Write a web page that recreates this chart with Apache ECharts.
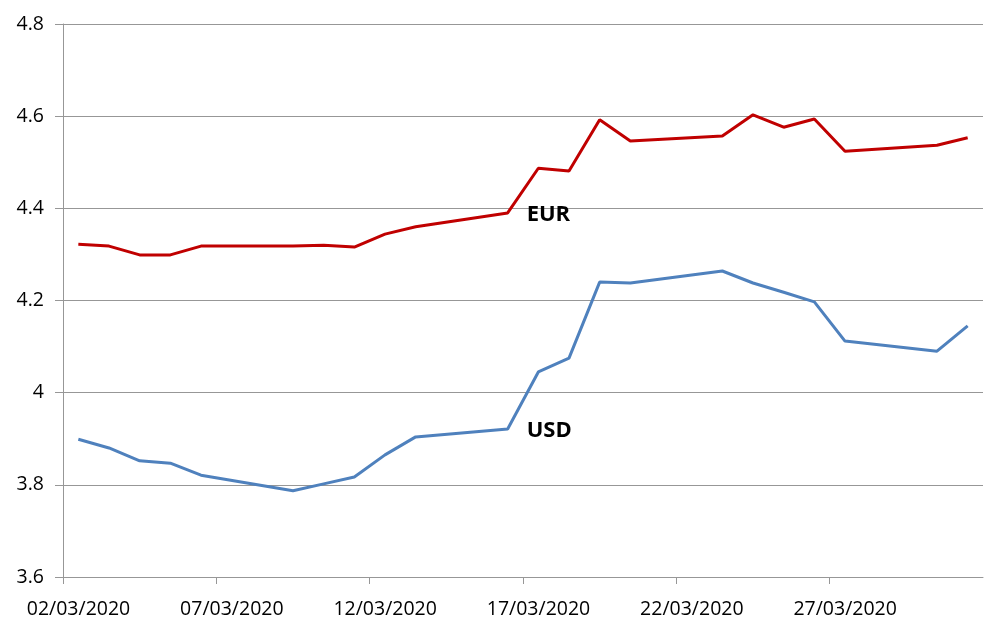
<!DOCTYPE html>
<html>
<head>
<meta charset="utf-8">
<script src="https://cdn.jsdelivr.net/npm/echarts@6/dist/echarts.min.js"></script>
<style>
html,body{margin:0;padding:0;background:#fff;}
#chart{width:1006px;height:633px;}
</style>
</head>
<body>
<div id="chart"></div>
<script>
const dates = ['02/03/2020','03/03/2020','04/03/2020','05/03/2020','06/03/2020',
  '09/03/2020','10/03/2020','11/03/2020','12/03/2020','13/03/2020',
  '16/03/2020','17/03/2020','18/03/2020','19/03/2020','20/03/2020',
  '23/03/2020','24/03/2020','25/03/2020','26/03/2020','27/03/2020',
  '30/03/2020','31/03/2020'];
const eur = [4.322,4.318,4.299,4.299,4.318,
  4.318,4.320,4.316,4.344,4.360,
  4.390,4.487,4.481,4.592,4.546,
  4.557,4.603,4.576,4.594,4.524,
  4.537,4.553];
const usd = [3.899,3.880,3.852,3.847,3.821,
  3.787,3.802,3.817,3.865,3.904,
  3.921,4.045,4.075,4.240,4.238,
  4.264,4.238,4.218,4.197,4.112,
  4.090,4.145];
const labelDate = '16/03/2020';
const axisStart = '02/03/2020';
const axisDays = 30;
const tickStep = 5;
const yTicks = {min: 3.6, max: 4.8, step: 0.2};

const DAY = 86400000;
function parseDate(s){ const p = s.split('/'); return Date.UTC(+p[2], +p[1]-1, +p[0]); }
const t0 = parseDate(axisStart);
function dayIndex(s){ return (parseDate(s) - t0) / DAY + 0.5; }
function fmtDate(v){
  const d = new Date(t0 + Math.round(v) * DAY);
  const dd = String(d.getUTCDate()).padStart(2,'0');
  const mm = String(d.getUTCMonth()+1).padStart(2,'0');
  return dd + '/' + mm + '/' + d.getUTCFullYear();
}
function build(vals, name){
  return dates.map((d,i) => {
    const item = {value: [dayIndex(d), vals[i]]};
    if (d === labelDate) {
      item.label = {show: true, position: 'right', distance: 19, offset: [0, 2], formatter: name,
        fontFamily: 'Open Sans', fontWeight: 'bold', fontSize: 22, color: '#000'};
    }
    return item;
  });
}
const gray = '#979797';
const chart = echarts.init(document.getElementById('chart'));
chart.setOption({
  animation: false,
  grid: {left: 63, right: 23, top: 24, bottom: 56, containLabel: false},
  xAxis: {
    type: 'value', min: 0, max: axisDays, interval: tickStep,
    axisLine: {show: true, lineStyle: {color: gray, width: 1}},
    axisTick: {show: true, length: 7, lineStyle: {color: gray}},
    splitLine: {show: false},
    axisLabel: {formatter: fmtDate, showMaxLabel: false, margin: 22,
      padding: [0, 0, 0, 31],
      fontFamily: 'Open Sans', fontSize: 19.5, color: '#000'}
  },
  yAxis: {
    type: 'value', min: yTicks.min, max: yTicks.max, interval: yTicks.step,
    axisLine: {show: true, lineStyle: {color: gray, width: 1}},
    axisTick: {show: true, inside: false, length: 8, lineStyle: {color: gray, width: 1}},
    splitLine: {show: true, lineStyle: {color: gray, width: 1}},
    axisLabel: {margin: 19, fontFamily: 'Open Sans', fontSize: 19.5, color: '#000',
      formatter: v => String(+v.toFixed(1))}
  },
  series: [
    {name: 'EUR', type: 'line', showSymbol: true, symbol: 'circle', symbolSize: 0,
      lineStyle: {color: '#C00000', width: 3}, itemStyle: {color: '#C00000'},
      data: build(eur, 'EUR')},
    {name: 'USD', type: 'line', showSymbol: true, symbol: 'circle', symbolSize: 0,
      lineStyle: {color: '#4F81BD', width: 3}, itemStyle: {color: '#4F81BD'},
      data: build(usd, 'USD')}
  ]
});
</script>
</body>
</html>
